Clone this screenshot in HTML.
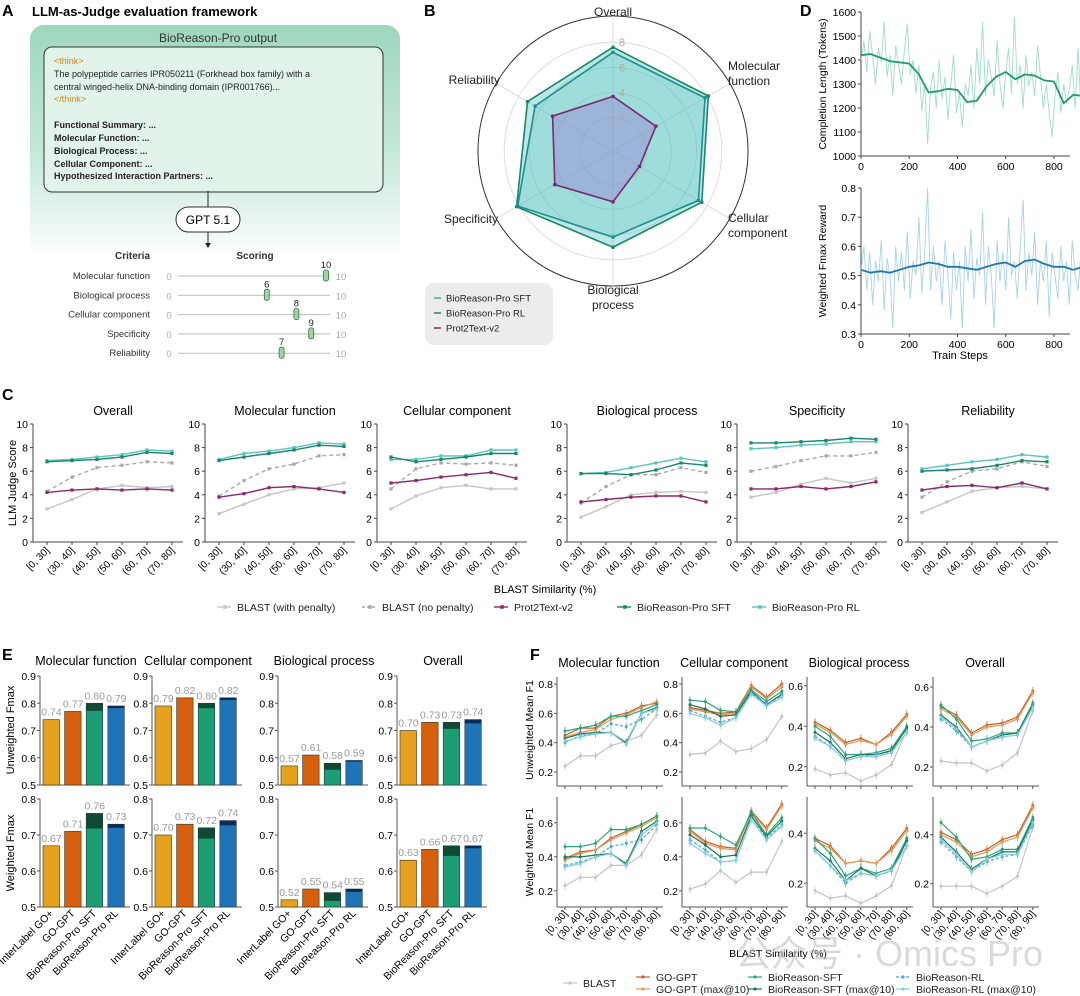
<!DOCTYPE html>
<html><head><meta charset="utf-8">
<style>
html,body{margin:0;padding:0;background:#fff;}
svg{display:block;font-family:"Liberation Sans","Noto Sans CJK SC",sans-serif;}
</style></head>
<body>
<svg id="fig" width="1080" height="996" viewBox="0 0 1080 996" xmlns="http://www.w3.org/2000/svg">
<defs>
<linearGradient id="gA" x1="0" y1="0" x2="0" y2="1">
<stop offset="0" stop-color="#9ed7bd"/><stop offset="0.55" stop-color="#c5e8d8"/><stop offset="1" stop-color="#ffffff"/>
</linearGradient>
</defs>
<!-- Panel A -->
<g>
<text x="2" y="16" font-size="16" font-weight="bold">A</text>
<text x="32" y="16" font-size="13" font-weight="bold">LLM-as-Judge evaluation framework</text>
<rect x="30" y="25" width="370" height="235" rx="14" fill="url(#gA)"/>
<text x="218" y="42" font-size="12" text-anchor="middle" fill="#333">BioReason-Pro output</text>
<rect x="44" y="47" width="339" height="145" rx="8" fill="#e2f3ea" stroke="#333" stroke-width="1"/>
<g font-size="9" fill="#222">
<text x="54" y="64" fill="#c98a1b">&lt;think&gt;</text>
<text x="54" y="77">The polypeptide carries IPR050211 (Forkhead box family) with a</text>
<text x="54" y="90">central winged-helix DNA-binding domain (IPR001766)...</text>
<text x="54" y="102" fill="#c98a1b">&lt;/think&gt;</text>
<text x="54" y="128" font-weight="bold">Functional Summary: ...</text>
<text x="54" y="141" font-weight="bold">Molecular Function: ...</text>
<text x="54" y="154" font-weight="bold">Biological Process: ...</text>
<text x="54" y="167" font-weight="bold">Cellular Component: ...</text>
<text x="54" y="179" font-weight="bold">Hypothesized Interaction Partners: ...</text>
</g>
<line x1="208" y1="191" x2="208" y2="207" stroke="#222"/>
<rect x="176" y="207" width="64" height="25" rx="12.5" fill="#fff" stroke="#333"/>
<text x="208" y="224" font-size="12" text-anchor="middle">GPT 5.1</text>
<line x1="208" y1="232" x2="208" y2="245" stroke="#222"/>
<path d="M205,243 L208,248 L211,243 Z" fill="#222"/>
<text x="150" y="259" font-size="10" font-weight="bold" text-anchor="end" fill="#333">Criteria</text>
<text x="255" y="259" font-size="10" font-weight="bold" text-anchor="middle" fill="#333">Scoring</text>
<g id="scoring"></g>
</g>
<g id="panelB"></g>
<g id="panelD"></g>
<g id="panelC"></g>
<g id="panelE"></g>
<g id="panelF"></g>
<text x="735" y="966" font-size="36" fill="#bdbdbd" opacity="0.55">公众号 · Omics Pro</text>
</svg>
<script>
const NS='http://www.w3.org/2000/svg';
function mk(tag,attrs,parent,txt){const e=document.createElementNS(NS,tag);for(const k in attrs)e.setAttribute(k,attrs[k]);if(txt!==undefined)e.textContent=txt;parent.appendChild(e);return e;}
function nm(e,n){


return e;}
function poly(pts){return pts.map(p=>p[0].toFixed(1)+','+p[1].toFixed(1)).join(' ');}

/* ---------- Panel A scoring ---------- */
const critNames=['Molecular function','Biological process','Cellular component','Specificity','Reliability'];
const critScores=[10,6,8,9,7];
(function(){
const g=document.getElementById('scoring');
critNames.forEach((c,i)=>{
 const y=276+i*19.3;
 const row=nm(mk('g',{},g),'criterion-row');
 mk('text',{x:150,y:y+3,'font-size':9.5,'text-anchor':'end',fill:'#333'},row,c);
 mk('text',{x:169,y:y+4,'font-size':9.5,'text-anchor':'middle',fill:'#aaa'},row,'0');
 mk('line',{x1:178,y1:y,x2:330,y2:y,stroke:'#bbb'},row);
 mk('text',{x:341,y:y+4,'font-size':9.5,'text-anchor':'middle',fill:'#aaa'},row,'10');
 const x=178+critScores[i]*14.8;
 const m=mk('rect',{x:x-2.5,y:y-6,width:5,height:11,rx:2,fill:'#9fd4a8',stroke:'#3a6b45','stroke-width':0.8},row);
 nm(m,'score-marker');
 mk('text',{x:x,y:y-8,'font-size':9.5,'text-anchor':'middle',fill:'#222'},row,String(critScores[i]));
});})();

/* ---------- Panel B radar ---------- */
const radarAxes=['Overall','Molecular function','Cellular component','Biological process','Specificity','Reliability'];
const radarSFT=[7.6,8.1,7.5,7.0,8.2,7.2];
const radarRL=[7.2,7.8,7.2,6.2,8.1,6.5];
const radarProt=[3.7,3.3,1.8,3.4,4.7,4.9];
const radarTicks=[2,4,6,8];
(function(){
const g=nm(document.getElementById('panelB'),'panel-b');
const cx=613,cy=151;
const r=v=>8+12.6*v;
const ang=i=>(-90+60*i)*Math.PI/180;
const pt=(i,v)=>[cx+r(v)*Math.cos(ang(i)),cy+r(v)*Math.sin(ang(i))];
mk('text',{x:424,y:16,'font-size':16,'font-weight':'bold'},g,'B');
nm(mk('circle',{cx,cy,r:135,fill:'none',stroke:'#333','stroke-width':1},g),'radar-outer-ring');
radarTicks.forEach(t=>{nm(mk('circle',{cx,cy,r:r(t),fill:'none',stroke:'#ddd'},g),'radar-ring');});
radarAxes.forEach((a,i)=>{const p=pt(i,10.1);nm(mk('line',{x1:cx,y1:cy,x2:p[0],y2:p[1],stroke:'#ddd'},g),'radar-spoke');});
const series=[[radarSFT,'#16876a','rgba(90,195,195,0.40)'],[radarRL,'#1e8f8a','rgba(90,195,195,0.30)'],[radarProt,'#7a2a6a','rgba(150,120,210,0.40)']];
const names=['radar-sft','radar-rl','radar-prot2text'];
series.forEach((s,k)=>{
 const pts=s[0].map((v,i)=>pt(i,v));
 nm(mk('polygon',{points:poly(pts),fill:s[2],stroke:s[1],'stroke-width':1.6},g),names[k]);
 pts.forEach(p=>mk('circle',{cx:p[0],cy:p[1],r:1.8,fill:s[1]},g));
});
radarTicks.forEach(t=>{nm(mk('text',{x:cx+6,y:cy-r(t)+4,'font-size':11,fill:'#aaa'},g,String(t)),'radar-tick');});
const L=[[613,16,'middle',['Overall']],[728,70,'start',['Molecular','function']],[728,222,'start',['Cellular','component']],[613,294,'middle',['Biological','process']],[498,223,'end',['Specificity']],[500,84,'end',['Reliability']]];
L.forEach(l=>{const t=nm(mk('text',{x:l[0],y:l[1],'font-size':12,'text-anchor':l[2],fill:'#222'},g),'radar-axis-label');
 l[3].forEach((s,j)=>mk('tspan',{x:l[0],dy:j?15:0},t,s));});
const lg=nm(mk('g',{},g),'radar-legend');
mk('rect',{x:425,y:283,width:128,height:62,rx:9,fill:'#ececec'},lg);
[['BioReason-Pro SFT','#3ab39a'],['BioReason-Pro RL','#1e7f7a'],['Prot2Text-v2','#8a2a6a']].forEach((e,i)=>{
 const y=298+i*15;
 const it=nm(mk('g',{},lg),'legend-entry');
 mk('line',{x1:434,y1:y,x2:441,y2:y,stroke:e[1],'stroke-width':1.5},it);
 mk('text',{x:446,y:y+3.5,'font-size':9.5,fill:'#222'},it,e[0]);
});
})();

/* ---------- Panel D ---------- */
const stepsTicks=[0,200,400,600,800];
const lenSmooth=[1420,1425,1410,1395,1390,1385,1340,1265,1270,1280,1275,1225,1230,1290,1330,1350,1320,1340,1335,1315,1310,1220,1255,1250,1235];
const lenRaw=[1400,1480,1350,1520,1420,1300,1450,1390,1560,1330,1420,1250,1460,1380,1300,1440,1550,1340,1400,1260,1380,1190,1300,1050,1280,1350,1200,1400,1240,1330,1150,1290,1420,1180,1260,1120,1300,1250,1380,1200,1450,1300,1560,1250,1400,1330,1250,1480,1300,1200,1350,1450,1260,1580,1300,1380,1200,1420,1290,1350,1250,1460,1330,1200,1300,1180,1080,1250,1350,1180,1300,1220,1280,1380,1200,1450,1180,1300,1100,1260];
const rewSmooth=[0.52,0.51,0.515,0.51,0.52,0.53,0.535,0.545,0.54,0.53,0.53,0.525,0.52,0.53,0.54,0.545,0.53,0.55,0.555,0.54,0.53,0.53,0.52,0.53,0.555];
const rewRaw=[0.52,0.60,0.45,0.58,0.40,0.55,0.48,0.62,0.38,0.56,0.50,0.32,0.60,0.48,0.58,0.45,0.65,0.42,0.55,0.50,0.70,0.44,0.58,0.80,0.45,0.60,0.48,0.55,0.40,0.62,0.50,0.35,0.58,0.45,0.55,0.32,0.60,0.48,0.66,0.42,0.56,0.50,0.72,0.40,0.60,0.50,0.32,0.62,0.48,0.58,0.45,0.70,0.50,0.55,0.42,0.60,0.76,0.45,0.58,0.50,0.65,0.40,0.55,0.48,0.62,0.36,0.58,0.50,0.42,0.60,0.48,0.55,0.40,0.62,0.50,0.45,0.58,0.52,0.70,0.48];
const lenTicks=[1000,1100,1200,1300,1400,1500,1600];
const rewTicks=[0.3,0.4,0.5,0.6,0.7,0.8];
(function(){
const g=nm(document.getElementById('panelD'),'panel-d');
mk('text',{x:800,y:16,'font-size':16,'font-weight':'bold'},g,'D');
const xs=s=>861+s*(193/800);
function chart(y0,y1,lo,hi,ticks,fmt,raw,sm,cRaw,cSm,ylab,name){
 const ys=v=>y1-(v-lo)/(hi-lo)*(y1-y0);
 const cg=nm(mk('g',{},g),name);
 mk('line',{x1:861,y1:y0,x2:861,y2:y1,stroke:'#444'},cg);
 mk('line',{x1:861,y1:y1,x2:1070,y2:y1,stroke:'#444'},cg);
 ticks.forEach(t=>{mk('line',{x1:858,y1:ys(t),x2:861,y2:ys(t),stroke:'#444'},cg);
  nm(mk('text',{x:856,y:ys(t)+4,'font-size':10.5,'text-anchor':'end'},cg,fmt(t)),'y-tick-label');});
 stepsTicks.forEach(t=>{mk('line',{x1:xs(t),y1:y1,x2:xs(t),y2:y1+3,stroke:'#444'},cg);
  nm(mk('text',{x:xs(t),y:y1+14,'font-size':10.5,'text-anchor':'middle'},cg,String(t)),'x-tick-label');});
 nm(mk('polyline',{points:poly(raw.map((v,i)=>[xs(i*12),ys(v)])),fill:'none',stroke:cRaw,'stroke-width':0.9,opacity:0.75},cg),'raw-line');
 nm(mk('polyline',{points:poly(sm.map((v,i)=>[xs(i*40),ys(v)])),fill:'none',stroke:cSm,'stroke-width':1.8},cg),'smoothed-line');
 const yc=(y0+y1)/2;
 nm(mk('text',{x:826,y:yc,'font-size':10.5,'text-anchor':'middle',transform:`rotate(-90 826 ${yc})`},cg,ylab),'y-axis-title');
}
chart(12,156,1000,1600,lenTicks,t=>String(t),lenRaw,lenSmooth,'#7fd1b0','#1f9a70','Completion Length (Tokens)','length-chart');
chart(188,334,0.3,0.8,rewTicks,t=>t.toFixed(1),rewRaw,rewSmooth,'#8cc3dc','#1f76a8','Weighted Fmax Reward','reward-chart');
nm(mk('text',{x:960,y:359,'font-size':11,'text-anchor':'middle'},g,'Train Steps'),'x-axis-title');
})();

/* ---------- Panel C ---------- */
const cCats=['[0, 30]','(30, 40]','(40, 50]','(50, 60]','(60, 70]','(70, 80]'];
const cTitles=['Overall','Molecular function','Cellular component','Biological process','Specificity','Reliability'];
const cPen=[[2.8,3.6,4.5,4.8,4.6,4.7],[2.4,3.2,4.0,4.5,4.6,5.0],[2.8,3.9,4.6,4.8,4.5,4.5],[2.1,3.0,4.0,4.2,4.3,4.2],[3.8,4.2,4.9,5.4,5.0,5.4],[2.5,3.4,4.3,4.6,4.7,4.5]];
const cNoPen=[[4.3,5.5,6.3,6.5,6.8,6.7],[3.9,5.2,6.2,6.6,7.3,7.4],[4.5,6.2,6.7,6.6,6.7,6.5],[3.3,4.7,5.7,5.7,6.3,5.9],[6.0,6.4,6.9,7.3,7.3,7.6],[3.8,5.1,6.0,6.2,6.8,6.4]];
const cProt=[[4.2,4.4,4.5,4.4,4.5,4.4],[3.8,4.1,4.6,4.7,4.5,4.2],[5.0,5.2,5.5,5.7,5.9,5.4],[3.4,3.6,3.8,3.9,3.9,3.4],[4.5,4.5,4.7,4.5,4.7,5.1],[4.4,4.7,4.8,4.6,5.0,4.5]];
const cSFT=[[6.8,6.9,7.0,7.2,7.6,7.5],[6.9,7.2,7.5,7.8,8.2,8.1],[7.2,6.8,7.0,7.2,7.5,7.5],[5.8,5.8,5.7,6.1,6.7,6.5],[8.4,8.4,8.5,8.6,8.8,8.7],[6.0,6.1,6.2,6.5,6.9,6.8]];
const cRL=[[6.9,7.0,7.2,7.4,7.8,7.7],[7.0,7.5,7.7,8.0,8.4,8.3],[7.0,7.0,7.3,7.3,7.8,7.8],[5.8,5.9,6.3,6.7,7.1,6.8],[7.9,8.0,8.2,8.3,8.5,8.5],[6.2,6.5,6.8,7.0,7.4,7.2]];
const cTicks=[0,2,4,6,8,10];
(function(){
const g=nm(document.getElementById('panelC'),'panel-c');
mk('text',{x:2,y:400,'font-size':16,'font-weight':'bold'},g,'C');
const ax=[33,205,377,567,737,908];
const y0=424,y1=542;
const ys=v=>y1-v/10*(y1-y0);
const styles=[[cPen,'#c6c6c6',null,'blast-with-penalty'],[cNoPen,'#a9a9a9','4,3','blast-no-penalty'],[cProt,'#8a2a6a',null,'prot2text-v2'],[cRL,'#5cc4c0',null,'bioreason-rl'],[cSFT,'#17886a',null,'bioreason-sft']];
cTitles.forEach((t,k)=>{
 const X=ax[k];const xs=i=>X+14+i*25;
 const cg=nm(mk('g',{},g),'chart-'+t.toLowerCase().replace(/ /g,'-'));
 nm(mk('text',{x:X+80,y:415,'font-size':12.5,'text-anchor':'middle'},cg,t),'chart-title');
 mk('line',{x1:X,y1:y0,x2:X,y2:y1,stroke:'#444'},cg);
 mk('line',{x1:X,y1:y1,x2:X+150,y2:y1,stroke:'#444'},cg);
 cTicks.forEach(v=>{mk('line',{x1:X-3,y1:ys(v),x2:X,y2:ys(v),stroke:'#444'},cg);
  nm(mk('text',{x:X-5,y:ys(v)+4,'font-size':10.5,'text-anchor':'end'},cg,String(v)),'y-tick-label');});
 cCats.forEach((c,i)=>{mk('line',{x1:xs(i),y1:y1,x2:xs(i),y2:y1+3,stroke:'#444'},cg);
  nm(mk('text',{x:xs(i)+3,y:y1+9,'font-size':10,'text-anchor':'end',transform:`rotate(-45 ${xs(i)+3} ${y1+9})`},cg,c),'x-tick-label');});
 styles.forEach(s=>{const d=s[0][k];
  const a={points:poly(d.map((v,i)=>[xs(i),ys(v)])),fill:'none',stroke:s[1],'stroke-width':1.4};
  if(s[2])a['stroke-dasharray']=s[2];
  nm(mk('polyline',a,cg),s[3]+'-line');
  d.forEach((v,i)=>mk('rect',{x:xs(i)-1.6,y:ys(v)-1.6,width:3.2,height:3.2,fill:s[1]},cg));});
});
nm(mk('text',{x:16,y:483,'font-size':11,'text-anchor':'middle',transform:'rotate(-90 16 483)'},g,'LLM Judge Score'),'y-axis-title');
nm(mk('text',{x:545,y:593,'font-size':11,'text-anchor':'middle'},g,'BLAST Similarity (%)'),'x-axis-title');
const leg=[[225,'BLAST (with penalty)','#c6c6c6',null],[370,'BLAST (no penalty)','#a9a9a9','3,2'],[502,'Prot2Text-v2','#8a2a6a',null],[625,'BioReason-Pro SFT','#17886a',null],[760,'BioReason-Pro RL','#5cc4c0',null]];
leg.forEach(l=>{const it=nm(mk('g',{},g),'legend-entry');
 const a={x1:l[0]-8,y1:607,x2:l[0]+6,y2:607,stroke:l[2],'stroke-width':1.4};if(l[3])a['stroke-dasharray']=l[3];
 mk('line',a,it);mk('rect',{x:l[0]-1.8,y:605.2,width:3.6,height:3.6,fill:l[2]},it);
 mk('text',{x:l[0]+12,y:611,'font-size':10.5,fill:'#222'},it,l[1]);});
})();

/* ---------- Panel E ---------- */
const eModels=['InterLabel GO+','GO-GPT','BioReason-Pro SFT','BioReason-Pro RL'];
const eTitles=['Molecular function','Cellular component','Biological process','Overall'];
const eTopVals=[[0.74,0.77,0.80,0.79],[0.79,0.82,0.80,0.82],[0.57,0.61,0.58,0.59],[0.70,0.73,0.73,0.74]];
const eTopBase=[[0.74,0.77,0.772,0.782],[0.79,0.82,0.782,0.812],[0.57,0.61,0.556,0.586],[0.70,0.73,0.706,0.726]];
const eBotVals=[[0.67,0.71,0.76,0.73],[0.70,0.73,0.72,0.74],[0.52,0.55,0.54,0.55],[0.63,0.66,0.67,0.67]];
const eBotBase=[[0.675,0.707,0.718,0.72],[0.696,0.731,0.69,0.727],[0.523,0.551,0.517,0.542],[0.632,0.663,0.642,0.663]];
const eTopLabels=[['0.74','0.77','0.80','0.79'],['0.79','0.82','0.80','0.82'],['0.57','0.61','0.58','0.59'],['0.70','0.73','0.73','0.74']];
const eBotLabels=[['0.67','0.71','0.76','0.73'],['0.70','0.73','0.72','0.74'],['0.52','0.55','0.54','0.55'],['0.63','0.66','0.67','0.67']];
const eTopTicks=[0.5,0.6,0.7,0.8,0.9];
const eBotTicks=[0.5,0.6,0.7,0.8];
(function(){
const g=nm(document.getElementById('panelE'),'panel-e');
mk('text',{x:2,y:660,'font-size':16,'font-weight':'bold'},g,'E');
const ax=[40,152,278,397];
const cols=['#e6a21c','#d65f0b','#1b9e73','#1f74b8'];
const caps=[null,null,'#0e4a35','#0a2c55'];
function row(y0,y1,lo,hi,ticks,vals,base,labels,rname){
 const ys=v=>y1-(v-lo)/(hi-lo)*(y1-y0);
 ax.forEach((X,k)=>{
  const cg=nm(mk('g',{},g),rname+'-'+eTitles[k].toLowerCase().replace(/ /g,'-'));
  mk('line',{x1:X,y1:y0,x2:X,y2:y1,stroke:'#555'},cg);
  mk('line',{x1:X,y1:y1,x2:X+90,y2:y1,stroke:'#555'},cg);
  ticks.forEach(t=>{mk('line',{x1:X-3,y1:ys(t),x2:X,y2:ys(t),stroke:'#555'},cg);
   nm(mk('text',{x:X-4,y:ys(t)+4,'font-size':10.5,'text-anchor':'end'},cg,t.toFixed(1)),'y-tick-label');});
  vals[k].forEach((v,i)=>{const bx=X+3+i*21.6;
   const b=mk('rect',{x:bx,y:ys(v),width:16.5,height:y1-ys(v),fill:cols[i],stroke:'#333','stroke-width':0.6},cg);
   nm(b,'bar-'+eModels[i].toLowerCase().replace(/[ +]/g,'-'));
   if(caps[i]){nm(mk('rect',{x:bx,y:ys(v),width:16.5,height:Math.max(0,ys(base[k][i])-ys(v)),fill:caps[i]},cg),'bar-max-cap');}
   nm(mk('text',{x:bx+8.5,y:ys(v)-4,'font-size':10.5,'text-anchor':'middle',fill:'#9a9a9a'},cg,labels[k][i]),'bar-value-label');});
 });
}
eTitles.forEach((t,k)=>nm(mk('text',{x:ax[k]+46,y:665,'font-size':12.5,'text-anchor':'middle'},g,t),'chart-title'));
row(676,785,0.5,0.9,eTopTicks,eTopVals,eTopBase,eTopLabels,'unweighted');
row(799,907,0.5,0.8,eBotTicks,eBotVals,eBotBase,eBotLabels,'weighted');
ax.forEach(X=>{eModels.forEach((m,i)=>{const bx=X+3+i*21.6+11;
 nm(mk('text',{x:bx,y:914,'font-size':10.5,'text-anchor':'end',transform:`rotate(-45 ${bx} 914)`},g,m),'x-tick-label');});});
nm(mk('text',{x:14,y:730,'font-size':11,'text-anchor':'middle',transform:'rotate(-90 14 730)'},g,'Unweighted Fmax'),'y-axis-title');
nm(mk('text',{x:14,y:853,'font-size':11,'text-anchor':'middle',transform:'rotate(-90 14 853)'},g,'Weighted Fmax'),'y-axis-title');
})();

/* ---------- Panel F ---------- */
const fCats=['[0, 30]','(30, 40]','(40, 50]','(50, 60]','(60, 70]','(70, 80]','(80, 90]'];
const fTitles=['Molecular function','Cellular component','Biological process','Overall'];
const fSeriesNames=['BLAST','GO-GPT','GO-GPT (max@10)','BioReason-SFT','BioReason-SFT (max@10)','BioReason-RL','BioReason-RL (max@10)'];
const fTopBLAST=[[0.24,0.31,0.31,0.38,0.41,0.45,0.59],[0.32,0.33,0.41,0.34,0.36,0.42,0.58],[0.19,0.16,0.17,0.13,0.16,0.21,0.38],[0.23,0.22,0.22,0.18,0.21,0.27,0.48]];
const fTopGO=[[0.45,0.50,0.50,0.58,0.60,0.65,0.67],[0.64,0.62,0.60,0.61,0.79,0.71,0.80],[0.42,0.38,0.32,0.34,0.31,0.37,0.46],[0.50,0.46,0.37,0.41,0.42,0.45,0.58]];
const fTopGOmax=[[0.44,0.47,0.49,0.56,0.59,0.64,0.68],[0.63,0.61,0.59,0.60,0.78,0.70,0.78],[0.41,0.37,0.31,0.33,0.31,0.36,0.45],[0.49,0.45,0.36,0.40,0.41,0.44,0.57]];
const fTopSFT=[[0.48,0.50,0.52,0.58,0.58,0.62,0.66],[0.69,0.68,0.62,0.61,0.76,0.68,0.75],[0.40,0.35,0.26,0.26,0.27,0.29,0.40],[0.51,0.44,0.33,0.34,0.37,0.37,0.52]];
const fTopSFTmax=[[0.43,0.46,0.47,0.47,0.40,0.60,0.64],[0.66,0.63,0.58,0.59,0.75,0.66,0.73],[0.37,0.32,0.24,0.26,0.26,0.28,0.39],[0.46,0.40,0.30,0.33,0.36,0.37,0.51]];
const fTopRL=[[0.40,0.45,0.46,0.53,0.51,0.56,0.63],[0.62,0.58,0.54,0.57,0.74,0.66,0.72],[0.35,0.30,0.23,0.25,0.26,0.27,0.37],[0.44,0.38,0.30,0.33,0.35,0.36,0.50]];
const fTopRLmax=[[0.41,0.44,0.46,0.47,0.39,0.60,0.63],[0.60,0.57,0.52,0.57,0.73,0.65,0.71],[0.34,0.30,0.23,0.25,0.25,0.27,0.37],[0.45,0.39,0.30,0.33,0.35,0.36,0.50]];
const fBotBLAST=[[0.23,0.28,0.28,0.35,0.35,0.41,0.56],[0.21,0.24,0.32,0.25,0.31,0.31,0.49],[0.17,0.14,0.15,0.12,0.15,0.19,0.35],[0.19,0.19,0.19,0.16,0.19,0.23,0.43]];
const fBotGO=[[0.39,0.43,0.44,0.51,0.55,0.59,0.64],[0.56,0.49,0.46,0.45,0.67,0.57,0.71],[0.38,0.35,0.28,0.29,0.28,0.34,0.42],[0.41,0.38,0.32,0.34,0.38,0.40,0.52]];
const fBotGOmax=[[0.38,0.42,0.44,0.50,0.54,0.58,0.63],[0.55,0.48,0.45,0.44,0.66,0.56,0.70],[0.37,0.34,0.28,0.29,0.28,0.33,0.41],[0.40,0.37,0.31,0.33,0.37,0.39,0.51]];
const fBotSFT=[[0.46,0.46,0.48,0.56,0.56,0.59,0.64],[0.57,0.57,0.52,0.47,0.66,0.53,0.63],[0.38,0.32,0.23,0.26,0.24,0.26,0.38],[0.45,0.39,0.30,0.31,0.34,0.34,0.47]];
const fBotSFTmax=[[0.40,0.40,0.41,0.42,0.36,0.55,0.61],[0.53,0.47,0.40,0.41,0.64,0.52,0.61],[0.34,0.29,0.21,0.26,0.23,0.25,0.37],[0.39,0.33,0.26,0.30,0.33,0.33,0.46]];
const fBotRL=[[0.35,0.37,0.40,0.46,0.48,0.50,0.59],[0.50,0.44,0.37,0.38,0.62,0.51,0.59],[0.33,0.27,0.20,0.24,0.23,0.25,0.35],[0.37,0.31,0.25,0.29,0.31,0.32,0.44]];
const fBotRLmax=[[0.34,0.36,0.40,0.42,0.35,0.53,0.60],[0.48,0.42,0.37,0.38,0.62,0.50,0.58],[0.33,0.27,0.21,0.24,0.23,0.25,0.35],[0.38,0.32,0.25,0.30,0.32,0.32,0.45]];
const fTopTicks=[[0.2,0.4,0.6,0.8],[0.2,0.4,0.6,0.8],[0.2,0.4,0.6],[0.2,0.4,0.6]];
const fBotTicks=[[0.2,0.4,0.6],[0.2,0.4,0.6],[0.2,0.4],[0.2,0.4]];
(function(){
const g=nm(document.getElementById('panelF'),'panel-f');
mk('text',{x:530,y:660,'font-size':16,'font-weight':'bold'},g,'F');
const ax=[557,682,807,933];
const cols=['#c4c4c4','#c0622a','#e39a5e','#2aa87a','#17785a','#4aa6cc','#86ccd8'];
const dash=[null,null,null,null,null,'3,2',null];
const keys=['blast','go-gpt','go-gpt-max10','bioreason-sft','bioreason-sft-max10','bioreason-rl','bioreason-rl-max10'];
const topScale=[[0.105,146.7],[0.105,146.7],[0.105,202.5],[0.105,200]];
const botScale=[[0.105,170],[0.105,170],[0.105,250],[0.105,245]];
const topSeries=[fTopBLAST,fTopGO,fTopGOmax,fTopSFT,fTopSFTmax,fTopRL,fTopRLmax];
const botSeries=[fBotBLAST,fBotGO,fBotGOmax,fBotSFT,fBotSFTmax,fBotRL,fBotRLmax];
function row(y0,y1,scales,tickSets,series,rname){
 ax.forEach((X,k)=>{
  const ys=v=>y1-(v-scales[k][0])*scales[k][1];
  const xs=i=>X+8+i*15.3;
  const cg=nm(mk('g',{},g),rname+'-'+fTitles[k].toLowerCase().replace(/ /g,'-'));
  mk('line',{x1:X,y1:y0,x2:X,y2:y1,stroke:'#555'},cg);
  mk('line',{x1:X,y1:y1,x2:X+106,y2:y1,stroke:'#555'},cg);
  tickSets[k].forEach(t=>{mk('line',{x1:X-3,y1:ys(t),x2:X,y2:ys(t),stroke:'#555'},cg);
   nm(mk('text',{x:X-4,y:ys(t)+4,'font-size':10.5,'text-anchor':'end'},cg,t.toFixed(1)),'y-tick-label');});
  fCats.forEach((c,i)=>mk('line',{x1:xs(i),y1:y1,x2:xs(i),y2:y1+3,stroke:'#555'},cg));
  series.forEach((s,j)=>{const d=s[k];
   const a={points:poly(d.map((v,i)=>[xs(i),ys(v)])),fill:'none',stroke:cols[j],'stroke-width':1.2};
   if(dash[j])a['stroke-dasharray']=dash[j];
   nm(mk('polyline',a,cg),keys[j]+'-line');
   d.forEach((v,i)=>{mk('line',{x1:xs(i),y1:ys(v)-4,x2:xs(i),y2:ys(v)+4,stroke:cols[j],'stroke-width':0.7},cg);
    mk('circle',{cx:xs(i),cy:ys(v),r:1.5,fill:cols[j]},cg);});
  });
 });
}
fTitles.forEach((t,k)=>nm(mk('text',{x:ax[k]+52,y:667,'font-size':12.5,'text-anchor':'middle'},g,t),'chart-title'));
row(677,786,topScale,fTopTicks,topSeries,'unweighted');
row(797,907,botScale,fBotTicks,botSeries,'weighted');
ax.forEach(X=>{fCats.forEach((c,i)=>{const x=X+8+i*15.3+3;
 nm(mk('text',{x:x,y:914,'font-size':10,'text-anchor':'end',transform:`rotate(-50 ${x} 914)`},g,c),'x-tick-label');});});
nm(mk('text',{x:533,y:730,'font-size':10.5,'text-anchor':'middle',transform:'rotate(-90 533 730)'},g,'Unweighted Mean F1'),'y-axis-title');
nm(mk('text',{x:533,y:852,'font-size':10.5,'text-anchor':'middle',transform:'rotate(-90 533 852)'},g,'Weighted Mean F1'),'y-axis-title');
nm(mk('text',{x:778,y:957,'font-size':10.5,'text-anchor':'middle'},g,'BLAST Similarity (%)'),'x-axis-title');
const leg=[[570,983,0],[643,977,1],[643,989,2],[755,977,3],[755,989,4],[903,977,5],[903,989,6]];
leg.forEach(l=>{const it=nm(mk('g',{},g),'legend-entry');
 const a={x1:l[0]-7,y1:l[1],x2:l[0]+7,y2:l[1],stroke:cols[l[2]],'stroke-width':1.2};if(dash[l[2]])a['stroke-dasharray']=dash[l[2]];
 mk('line',a,it);mk('circle',{cx:l[0],cy:l[1],r:1.6,fill:cols[l[2]]},it);
 mk('text',{x:l[0]+13,y:l[1]+4,'font-size':10.5,fill:'#222'},it,fSeriesNames[l[2]]);});
})();
</script>
</body></html>
